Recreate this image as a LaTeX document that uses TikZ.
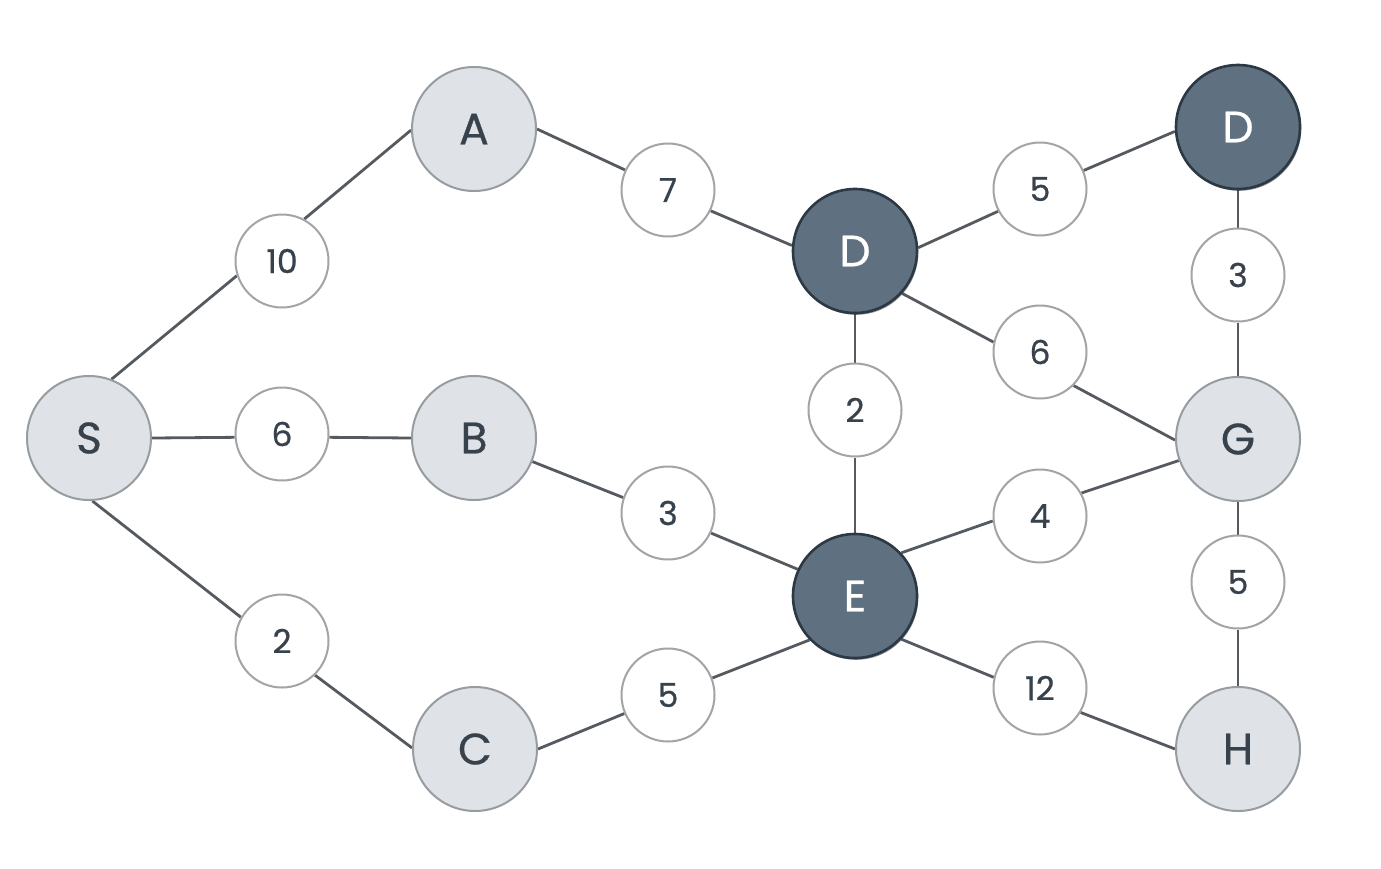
\documentclass[tikz,border=0pt]{standalone}
\usepackage{fontspec}
\setmainfont{Poppins}
\newfontfamily\labelfont{Poppins}[FakeBold=0.6]
\usetikzlibrary{backgrounds,shadows}

\definecolor{lightfill}{HTML}{DFE3E8}
\definecolor{lightline}{HTML}{979CA1}
\definecolor{darkfill}{HTML}{5F7080}
\definecolor{darkline}{HTML}{2C3945}
\definecolor{edgecol}{HTML}{555A60}
\definecolor{wline}{HTML}{A2A4A6}
\definecolor{txt}{HTML}{38424C}

\tikzset{
  vertex/.style={circle, inner sep=0pt, minimum size=124pt, line width=2pt,
    font=\labelfont\fontsize{44}{44}\selectfont},
  lightv/.style={vertex, fill=lightfill, draw=lightline, text=txt},
  darkv/.style={vertex, fill=darkfill, draw=darkline, line width=2.6pt, text=white,
    drop shadow={shadow xshift=1.2pt, shadow yshift=-1.8pt, fill=darkline, opacity=0.55}},
  weight/.style={circle, inner sep=0pt, minimum size=93pt, line width=2pt,
    fill=white, draw=wline, text=txt, font=\labelfont\fontsize{33}{33}\selectfont},
  edge/.style={draw=edgecol, line width=2.8pt}
}

\begin{document}
\begin{tikzpicture}[x=1pt,y=-1pt]
  \useasboundingbox (0,0) rectangle (1381,868);

  % vertices
  \node[lightv] (S)  at (89,438)   {S};
  \node[lightv] (A)  at (474,129)  {A};
  \node[lightv] (B)  at (474,438)  {B};
  \node[lightv] (C)  at (475,749)  {C};
  \node[darkv]  (D)  at (855,251)  {D};
  \node[darkv]  (E)  at (855,596)  {E};
  \node[darkv]  (Dt) at (1238,127) {D};
  \node[lightv] (G)  at (1238,439) {G};
  \node[lightv] (H)  at (1238,749) {H};

  % edge weights
  \node[weight] (w10) at (282,261)  {10};
  \node[weight] (w6)  at (282,434)  {6};
  \node[weight] (w2)  at (282,641)  {2};
  \node[weight] (w7)  at (668,190)  {7};
  \node[weight] (w3)  at (668,513)  {3};
  \node[weight] (w5a) at (668,695)  {5};
  \node[weight] (w2b) at (855,410)  {2};
  \node[weight] (w5b) at (1040,189) {5};
  \node[weight] (w6b) at (1040,352) {6};
  \node[weight] (w4)  at (1040,516) {4};
  \node[weight] (w12) at (1040,688) {12};
  \node[weight] (w3b) at (1238,275) {3};
  \node[weight] (w5c) at (1238,582) {5};

  % connectors, beneath the circles
  \begin{pgfonlayer}{background}
    \fill[white] (0,0) rectangle (1381,868);
    \draw[edge] (S.69) -- (w10.198);
    \draw[edge] (w10.62) -- (A.181);
    \draw[edge] (S.0) -- (w6.184);
    \draw[edge] (w6.356) -- (B.180);
    \draw[edge] (S.273) -- (w2.150);
    \draw[edge] (w2.314) -- (C.179);
    \draw[edge] (A.0) -- (w7.155);
    \draw[edge] (w7.334) -- (D.175);
    \draw[edge] (B.338) -- (w3.161);
    \draw[edge] (w3.335) -- (E.155);
    \draw[edge] (C.0) -- (w5a.203);
    \draw[edge] (w5a.21) -- (E.224);
    \draw[edge] (D.south) -- (w2b.north);
    \draw[edge] (w2b.south) -- (E.north);
    \draw[edge] (D.3) -- (w5b.208);
    \draw[edge] (w5b.23) -- (Dt.184);
    \draw[edge] (D.318) -- (w6b.168);
    \draw[edge] (w6b.315) -- (G.181);
    \draw[edge] (Dt.south) -- (w3b.north);
    \draw[edge] (w3b.south) -- (G.north);
    \draw[edge] (E.43) -- (w4.186);
    \draw[edge] (w4.29) -- (G.200);
    \draw[edge] (E.317) -- (w12.167);
    \draw[edge] (w12.329) -- (H.180);
    \draw[edge] (G.south) -- (w5c.north);
    \draw[edge] (w5c.south) -- (H.north);
  \end{pgfonlayer}
\end{tikzpicture}
\end{document}
